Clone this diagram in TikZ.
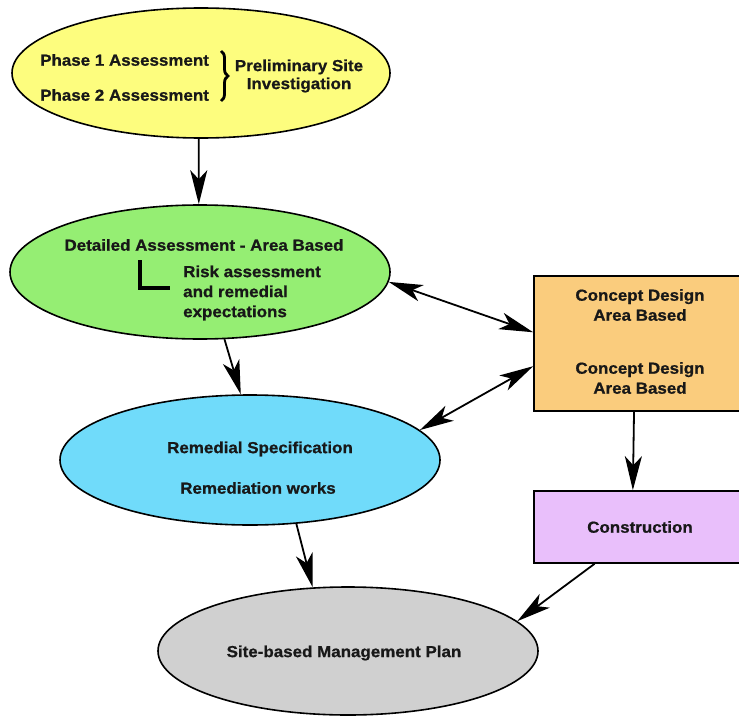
\documentclass[tikz,border=0pt]{standalone}
\usepackage{fontspec}
\newfontfamily\labfont{Liberation Sans}[FakeStretch=1.06,BoldFeatures={FakeBold=0.8}]
\usetikzlibrary{arrows.meta,shapes.geometric,decorations.pathreplacing}
\definecolor{cyel}{RGB}{253,253,126}
\definecolor{cgrn}{RGB}{149,238,115}
\definecolor{cblu}{RGB}{112,219,250}
\definecolor{cgry}{RGB}{208,208,208}
\definecolor{corg}{RGB}{250,204,125}
\definecolor{cpur}{RGB}{233,191,251}
\definecolor{ctxt}{RGB}{24,24,24}
\begin{document}
\begin{tikzpicture}[x=1pt,y=-1pt,
  ell/.style={ellipse, draw=black, line width=1.6pt, inner sep=0pt},
  box/.style={rectangle, draw=black, line width=1.6pt, inner sep=0pt},
  lbl/.style={font=\labfont\bfseries\fontsize{16}{20}\selectfont, text=ctxt, inner sep=0pt},
  conn/.style={line width=1.8pt, -{Stealth[length=34pt,width=17pt,inset=9pt]}},
  dconn/.style={line width=1.8pt, {Stealth[length=34pt,width=17pt,inset=9pt]}-{Stealth[length=34pt,width=17pt,inset=9pt]}},
  thickmark/.style={line width=3.5pt, draw=black}
]
\clip (0,0) rectangle (739,717);
\fill[white] (0,0) rectangle (739,717);

% shapes
\node[ell, fill=cyel, minimum width=378pt, minimum height=130pt] (yel) at (201,73) {};
\node[ell, fill=cgrn, minimum width=380pt, minimum height=134pt] (grn) at (200,272) {};
\node[ell, fill=cblu, minimum width=380pt, minimum height=130pt] (blu) at (250,460) {};
\node[ell, fill=cgry, minimum width=380pt, minimum height=128pt] (gry) at (348,651) {};
\node[box, fill=corg, minimum width=212pt, minimum height=135pt] (org) at (640,343.5) {};
\node[box, fill=cpur, minimum width=212pt, minimum height=72pt] (pur) at (640,527) {};

% texts
\node[lbl, anchor=west] (p1) at (40,60) {Phase 1 Assessment};
\node[lbl, anchor=west] (p2) at (40,95) {Phase 2 Assessment};
\draw[line width=2.8pt, draw=black, decorate, decoration={brace, amplitude=7pt}] (221,51) -- (221,101);
\node[lbl, align=center, font=\labfont\bfseries\fontsize{16}{18}\selectfont] (psi) at (299,76) {Preliminary Site\\Investigation};

\node[lbl] (det) at (204,245) {Detailed Assessment - Area Based};
\draw[thickmark] (140,260) -- (140,288) -- (170,288);
\node[lbl, align=left, anchor=west] (risk) at (183,293) {Risk assessment\\and remedial\\expectations};

\node[lbl, align=center] (cd1) at (640,305) {Concept Design\\Area Based};
\node[lbl, align=center] (cd2) at (640,378) {Concept Design\\Area Based};
\node[lbl] (con) at (640,527) {Construction};

\node[lbl] (rs) at (260,449) {Remedial Specification};
\node[lbl] (rw) at (258,488) {Remediation works};

\node[lbl] (sbm) at (344,653) {Site-based Management Plan};

% connectors
\draw[conn] (yel.-92.6) -- (grn.91.7);
\draw[conn] (grn.-70.8) -- (blu.98.7);
\draw[conn] (blu.-54.9) -- (gry.119);
\draw[conn] (org.-95.9) -- (pur.101);
\draw[conn] (pur.-141.6) -- (gry.10.8);
\draw[dconn] (grn.-3.9) -- (org.174.3);
\draw[dconn] (blu.10.2) -- (org.-168.3);
\end{tikzpicture}
\end{document}
